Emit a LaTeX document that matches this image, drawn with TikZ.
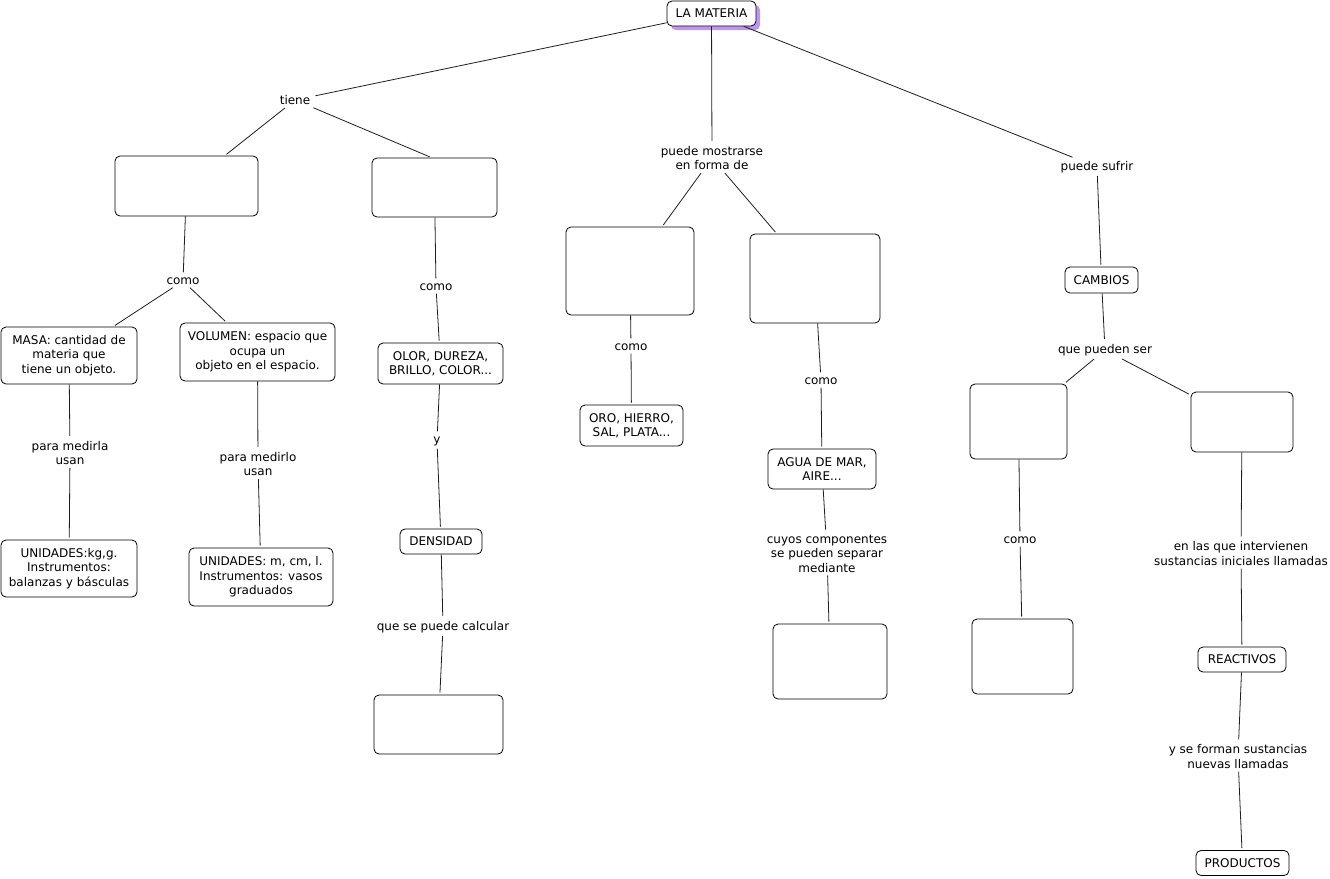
\documentclass[tikz,border=0pt]{standalone}
\usepackage{fontspec}
\setmainfont{DejaVu Sans}
\usepackage{tikz}
\usetikzlibrary{positioning, shadows}
\definecolor{mylavender}{RGB}{190,150,240}
\definecolor{myline}{RGB}{30,30,30}

\tikzset{
    concept/.style={draw=black, line width=0.8pt, rounded corners=5pt, fill=white,
        align=center, inner sep=2pt, font=\fontsize{12}{14.5}\selectfont},
    phrase/.style={align=center, inner sep=3pt, font=\fontsize{12}{14.5}\selectfont},
    link/.style={draw=myline, line width=0.8pt, shorten >=2pt}
}

\begin{document}
\begin{tikzpicture}[x=1pt,y=-1pt]
    \useasboundingbox (0,0) rectangle (1330,878);

    % root
    \node[concept, minimum width=89pt, minimum height=25pt,
          drop shadow={shadow xshift=4pt, shadow yshift=-4pt, fill=mylavender, opacity=1}]
          (materia) at (711.5,13.5) {LA MATERIA};

    % left branch: properties
    \node[phrase] (tiene) at (295,100) {tiene};
    \node[concept, minimum width=143pt, minimum height=60pt] (propA) at (186.5,186) {};
    \node[concept, minimum width=125pt, minimum height=59pt] (propB) at (434.5,187.5) {};

    \node[phrase] (comoA) at (183,281) {como};
    \node[concept, minimum width=136pt, minimum height=57pt] (masa) at (69,355.5)
        {MASA: cantidad de\\materia que\\tiene un objeto.};
    \node[concept, minimum width=155pt, minimum height=58pt] (volumen) at (257.5,352)
        {VOLUMEN: espacio que\\ocupa un\\objeto en el espacio.};
    \node[phrase] (medirla) at (70,453) {para medirla\\usan};
    \node[phrase] (medirlo) at (258,464) {para medirlo\\usan};
    \node[concept, minimum width=136pt, minimum height=57pt] (unidmasa) at (69,568.5)
        {UNIDADES:kg,g.\\Instrumentos:\\balanzas y básculas};
    \node[concept, minimum width=144pt, minimum height=58pt] (unidvol) at (261,577)
        {UNIDADES: m, cm, l.\\Instrumentos: vasos\\graduados};

    \node[phrase] (comoB) at (436,287) {como};
    \node[concept, minimum width=125pt, minimum height=41pt] (olor) at (440.5,363.5)
        {OLOR, DUREZA,\\BRILLO, COLOR...};
    \node[phrase] (yy) at (437,441) {y};
    \node[concept, minimum width=82pt, minimum height=25pt] (densidad) at (441,541.5) {DENSIDAD};
    \node[phrase] (calcular) at (443,627) {que se puede calcular};
    \node[concept, minimum width=129pt, minimum height=59pt] (calculo) at (438.5,724.5) {};

    % middle branch: forms
    \node[phrase] (mostrarse) at (712,158) {puede mostrarse\\en forma de};
    \node[concept, minimum width=128pt, minimum height=88pt] (formaA) at (630,271) {};
    \node[concept, minimum width=130pt, minimum height=89pt] (formaB) at (815,278.5) {};
    \node[phrase] (comoC) at (631,347) {como};
    \node[concept, minimum width=103pt, minimum height=41pt] (oro) at (631.5,425.5)
        {ORO, HIERRO,\\SAL, PLATA...};
    \node[phrase] (comoD) at (821,381) {como};
    \node[concept, minimum width=108pt, minimum height=40pt] (agua) at (822,469)
        {AGUA DE MAR,\\AIRE...};
    \node[phrase] (cuyos) at (827,553.5) {cuyos componentes\\se pueden separar\\mediante};
    \node[concept, minimum width=114pt, minimum height=75pt] (separa) at (830,661.5) {};

    % right branch: changes
    \node[phrase] (sufrir) at (1097,167) {puede sufrir};
    \node[concept, minimum width=73pt, minimum height=26pt] (cambios) at (1101.5,280) {CAMBIOS};
    \node[phrase] (pueden) at (1105,350) {que pueden ser};
    \node[concept, minimum width=97pt, minimum height=75pt] (tipoA) at (1018.5,421.5) {};
    \node[concept, minimum width=102pt, minimum height=60pt] (tipoB) at (1242,422) {};
    \node[phrase] (comoF) at (1020,540) {como};
    \node[concept, minimum width=101pt, minimum height=75pt] (ejemplo) at (1022.5,656.5) {};
    \node[phrase] (intervienen) at (1241,553.5) {en las que intervienen\\sustancias iniciales llamadas};
    \node[concept, minimum width=88pt, minimum height=25pt] (reactivos) at (1242,659.5) {REACTIVOS};
    \node[phrase] (forman) at (1238,756.5) {y se forman sustancias\\nuevas llamadas};
    \node[concept, minimum width=93pt, minimum height=25pt] (productos) at (1242.5,863) {PRODUCTOS};

    % links
    \draw[link] (materia) -- (tiene);
    \draw[link] (tiene) -- (propA);
    \draw[link] (tiene) -- ([xshift=-3pt]propB.north);
    \draw[link] (propA) -- (comoA);
    \draw[link] (comoA) -- (masa);
    \draw[link] (comoA) -- (volumen);
    \draw[link] (masa) -- (medirla);
    \draw[link] (medirla) -- (unidmasa);
    \draw[link] (volumen) -- (medirlo);
    \draw[link] (medirlo) -- (unidvol);
    \draw[link] (propB) -- (comoB);
    \draw[link] (comoB) -- (olor);
    \draw[link] (olor) -- (yy);
    \draw[link] (yy) -- (densidad);
    \draw[link] (densidad) -- (calcular);
    \draw[link] (calcular) -- (calculo);

    \draw[link] (materia) -- (mostrarse);
    \draw[link] (mostrarse) -- (formaA);
    \draw[link] (mostrarse) -- (formaB);
    \draw[link] (formaA) -- (comoC);
    \draw[link] (comoC) -- (oro);
    \draw[link] (formaB) -- (comoD);
    \draw[link] (comoD) -- (agua);
    \draw[link] (agua) -- (cuyos);
    \draw[link] (cuyos) -- (separa);

    \draw[link] (materia) -- (sufrir);
    \draw[link] (sufrir) -- (cambios);
    \draw[link] (cambios) -- (pueden);
    \draw[link] (pueden) -- (tipoA);
    \draw[link] (pueden) -- (tipoB);
    \draw[link] (tipoA) -- (comoF);
    \draw[link] (comoF) -- (ejemplo);
    \draw[link] (tipoB) -- (intervienen);
    \draw[link] (intervienen) -- (reactivos);
    \draw[link] (reactivos) -- (forman);
    \draw[link] (forman) -- (productos);
\end{tikzpicture}
\end{document}
